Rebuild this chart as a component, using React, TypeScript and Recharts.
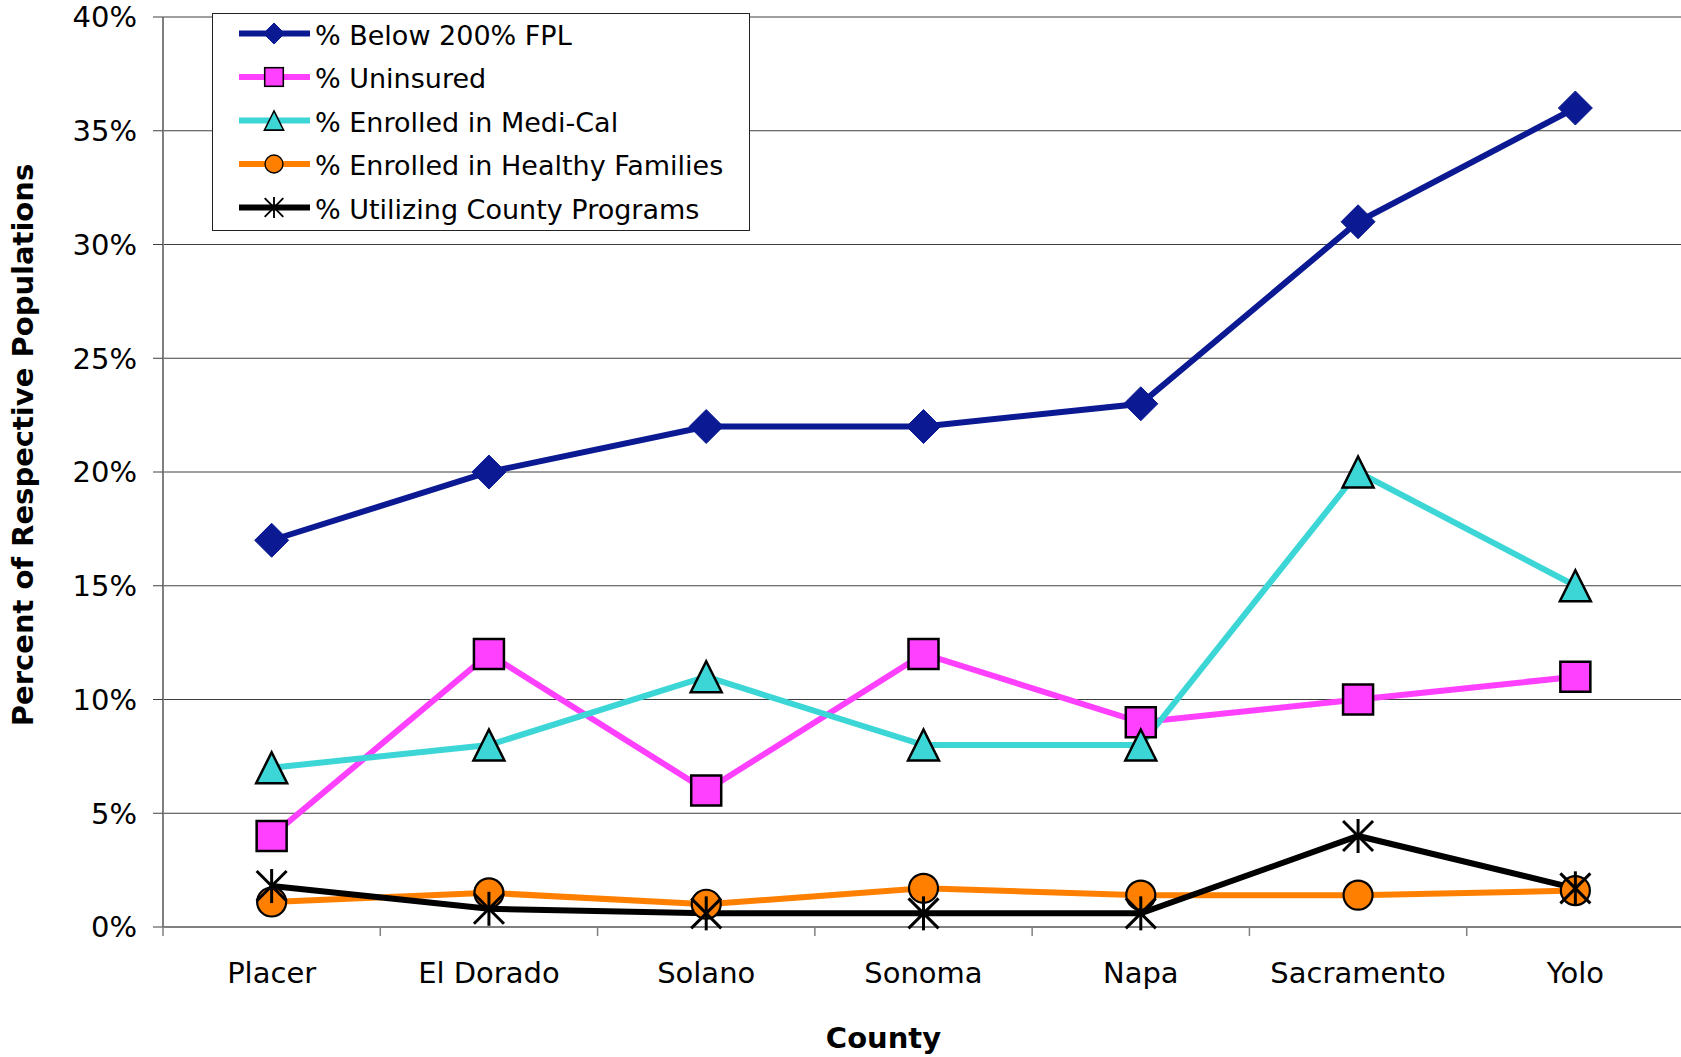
import React from "react";
import { CartesianGrid, Label, Legend, Line, LineChart, XAxis, YAxis } from "recharts";

const counties = ["Placer", "El Dorado", "Solano", "Sonoma", "Napa", "Sacramento", "Yolo"];
const belowFpl = [17, 20, 22, 22, 23, 31, 36];
const uninsured = [4, 12, 6, 12, 9, 10, 11];
const mediCal = [7, 8, 11, 8, 8, 20, 15];
const healthyFamilies = [1.1, 1.5, 1.0, 1.7, 1.4, 1.4, 1.6];
const countyPrograms = [1.8, 0.8, 0.6, 0.6, 0.6, 4.0, 1.7];
const yTicks = [0, 5, 10, 15, 20, 25, 30, 35, 40];

const data = counties.map((name, i) => ({
  name,
  fpl: belowFpl[i],
  uninsured: uninsured[i],
  mediCal: mediCal[i],
  hf: healthyFamilies[i],
  county: countyPrograms[i],
}));

type Shape = "diamond" | "square" | "triangle" | "circle" | "star";

const SERIES: { key: string; name: string; color: string; shape: Shape }[] = [
  { key: "fpl", name: "% Below 200% FPL", color: "#0b1a92", shape: "diamond" },
  { key: "uninsured", name: "% Uninsured", color: "#ff40ff", shape: "square" },
  { key: "mediCal", name: "% Enrolled in Medi-Cal", color: "#3dd6d6", shape: "triangle" },
  { key: "hf", name: "% Enrolled in Healthy Families", color: "#ff8000", shape: "circle" },
  { key: "county", name: "% Utilizing County Programs", color: "#000000", shape: "star" },
];

const FONT = "'DejaVu Sans', Verdana, sans-serif";
const CHART_W = 1690;
const CHART_H = 1057;
const MARGIN = { top: 17, right: 6, left: 0, bottom: 0 };
const Y_AXIS_W = 163;
const X_AXIS_H = 130;
const PLOT_W = CHART_W - MARGIN.left - MARGIN.right - Y_AXIS_W;
const X_TICK_GAP = 35;
const AXIS_COLOR = "#808080";
const TICK_FONT = 29;

function Marker({ shape, cx, cy, color, s = 1 }: { shape: Shape; cx: number; cy: number; color: string; s?: number }) {
  if (cx == null || cy == null) return null;
  switch (shape) {
    case "diamond": {
      const r = 17 * s;
      return (
        <polygon
          points={`${cx},${cy - r} ${cx + r},${cy} ${cx},${cy + r} ${cx - r},${cy}`}
          fill={color}
          stroke={color}
          strokeWidth={1}
        />
      );
    }
    case "square": {
      const h = 15 * s;
      return <rect x={cx - h} y={cy - h} width={h * 2} height={h * 2} fill={color} stroke="#000" strokeWidth={2.5 * s} />;
    }
    case "triangle": {
      const h = 15.5 * s;
      return (
        <polygon
          points={`${cx},${cy - h} ${cx + h},${cy + h} ${cx - h},${cy + h}`}
          fill={color}
          stroke="#000"
          strokeWidth={2.5 * s}
        />
      );
    }
    case "circle":
      return <circle cx={cx} cy={cy} r={14.5 * s} fill={color} stroke="#000" strokeWidth={2.2 * s} />;
    case "star": {
      const v = 17 * s;
      const d = 15 * s;
      return (
        <g stroke="#000" strokeWidth={3 * s}>
          <line x1={cx} x2={cx} y1={cy - v} y2={cy + v} />
          <line x1={cx - d} x2={cx + d} y1={cy - d} y2={cy + d} />
          <line x1={cx - d} x2={cx + d} y1={cy + d} y2={cy - d} />
        </g>
      );
    }
  }
  return null;
}

function LegendBox() {
  return (
    <svg width={538} height={218} style={{ display: "block" }}>
      <rect x={0.5} y={0.5} width={537} height={217} fill="#fff" stroke="#222" strokeWidth={1} />
      {SERIES.map((s, i) => {
        const cy = 20.5 + i * 43.5;
        return (
          <g key={s.key}>
            <line x1={27} x2={98} y1={cy} y2={cy} stroke={s.color} strokeWidth={6} />
            <Marker shape={s.shape} cx={62} cy={cy} color={s.color} s={0.62} />
            <text x={103} y={cy + 11} fontSize={27} fontFamily={FONT} fill="#000">
              {s.name}
            </text>
          </g>
        );
      })}
    </svg>
  );
}

function CountyTick(props: any) {
  const { x, y, payload } = props;
  const half = PLOT_W / counties.length / 2;
  const axisY = y - X_TICK_GAP;
  return (
    <g>
      <line x1={x - half} x2={x - half} y1={axisY} y2={axisY + 9} stroke={AXIS_COLOR} strokeWidth={1.5} />
      <text x={x} y={y} dy="0.71em" textAnchor="middle" fontSize={TICK_FONT} fontFamily={FONT} fill="#000">
        {payload.value}
      </text>
    </g>
  );
}

function YTitle(props: any) {
  const vb = props.viewBox;
  const cx = 23;
  const cy = vb.y + vb.height / 2 - 27;
  return (
    <text
      x={cx}
      y={cy}
      transform={`rotate(-90, ${cx}, ${cy})`}
      textAnchor="middle"
      dominantBaseline="central"
      fontSize={29}
      fontWeight="bold"
      fontFamily={FONT}
      fill="#000"
    >
      Percent of Respective Populations
    </text>
  );
}

function XTitle(props: any) {
  const vb = props.viewBox;
  return (
    <text
      x={vb.x + vb.width / 2 - 40}
      y={vb.y + 121}
      textAnchor="middle"
      fontSize={29}
      fontWeight="bold"
      fontFamily={FONT}
      fill="#000"
    >
      County
    </text>
  );
}

export default function App() {
  return (
    <div style={{ position: "absolute", left: 0, top: 0, width: 1681, height: 1057, overflow: "hidden", background: "#fff" }}>
      <LineChart width={CHART_W} height={CHART_H} data={data} margin={MARGIN} style={{ fontFamily: FONT }}>
        <CartesianGrid vertical={false} stroke="#404040" strokeWidth={1} />
        <XAxis
          dataKey="name"
          scale="band"
          height={X_AXIS_H}
          axisLine={{ stroke: AXIS_COLOR, strokeWidth: 2 }}
          tickLine={false}
          tickSize={0}
          tickMargin={X_TICK_GAP}
          interval={0}
          tick={<CountyTick />}
          label={<Label content={<XTitle />} />}
        />
        <YAxis
          width={Y_AXIS_W}
          domain={[0, 40]}
          ticks={yTicks}
          interval={0}
          tickFormatter={(v: number) => `${v}%`}
          axisLine={{ stroke: AXIS_COLOR, strokeWidth: 2 }}
          tickLine={{ stroke: "#404040" }}
          tickSize={10}
          tickMargin={16}
          tick={{ fontSize: TICK_FONT, fill: "#000", fontFamily: FONT }}
          label={<Label content={<YTitle />} />}
        />
        <Legend
          layout="vertical"
          align="center"
          verticalAlign="middle"
          content={() => <LegendBox />}
          wrapperStyle={{ left: 212, top: 13, width: 538, height: 218 }}
        />
        {SERIES.map((s) => (
          <Line
            key={s.key}
            type="linear"
            dataKey={s.key}
            name={s.name}
            stroke={s.color}
            strokeWidth={6}
            isAnimationActive={false}
            activeDot={false}
            dot={(p: any) => (
              <Marker key={`${s.key}-${p.index}`} shape={s.shape} cx={p.cx} cy={p.cy} color={s.color} />
            )}
          />
        ))}
      </LineChart>
    </div>
  );
}
